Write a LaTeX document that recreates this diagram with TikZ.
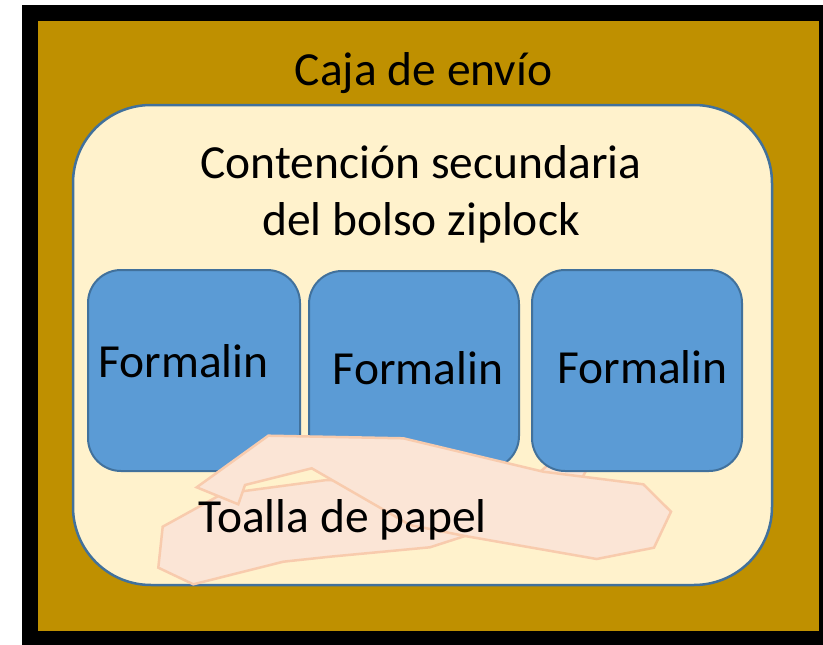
\documentclass[tikz,border=0pt]{standalone}
\usepackage{fontspec}
\setmainfont{Carlito}
\definecolor{gold}{HTML}{BF9000}
\definecolor{cream}{HTML}{FFF2CC}
\definecolor{edgeblue}{HTML}{41719C}
\definecolor{boxblue}{HTML}{5B9BD5}
\definecolor{towelfill}{HTML}{FBE5D6}
\definecolor{toweledge}{HTML}{F8CBAD}
\begin{document}
\begin{tikzpicture}[x=1pt,y=-1pt,
  bigtext/.style={font=\fontsize{47.5}{57}\selectfont, text=black, inner sep=0pt, anchor=base},
  vial/.style={draw=edgeblue, fill=boxblue, line width=2pt, rounded corners=33pt},
  towel/.style={draw=toweledge, fill=towelfill, line width=2.5pt, line join=miter}]
\useasboundingbox (0,0) rectangle (823,645);
\fill[white] (0,0) rectangle (823,645);
% shipping box
\fill[black] (22,5) rectangle (823,645);
\fill[gold] (38,21) rectangle (819,631);
\node[bigtext] (caja) at (423.5,85) {Caja de envío};
% ziplock bag
\draw[edgeblue, fill=cream, line width=2.5pt, rounded corners=78pt] (73,105) rectangle (772,585);
\node[bigtext] (cont1) at (421,178) {Contención secundaria};
\node[bigtext] (cont2) at (421,235) {del bolso ziplock};
% hidden towel tip peeking between boxes
\draw[towel] (533,478) -- (548,465) -- (588,467) -- (580,482) -- cycle;
% formalin containers
\draw[vial] (88,270) rectangle (300,471);
\draw[vial] (309,271) rectangle (519,469);
\draw[vial] (532,270) rectangle (742,471);
\node[bigtext] (f1) at (183.5,377) {Formalin};
\node[bigtext] (f2) at (418,384) {Formalin};
\node[bigtext] (f3) at (642.5,383) {Formalin};
% paper towel: lower band
\draw[towel] (162.7,526.7) -- (222,494) -- (326.7,480) -- (400,480) -- (460,520) -- (465,536)
  -- (430,547.3) -- (330,556.7) -- (283.3,561.7) -- (193.3,584.3) -- (158.3,567.7) -- cycle;
% paper towel: upper band
\draw[towel] (196.7,487.3) -- (268.3,435.7) -- (403.3,438.3) -- (543.3,471.7) -- (643.3,484.3)
  -- (671,511.7) -- (654,547.7) -- (596.7,559) -- (465,536) -- (410,525) -- (311.7,468.3)
  -- (245,485) -- (238.3,504.3) -- cycle;
\node[bigtext] (toalla) at (342.5,532) {Toalla de papel};
\end{tikzpicture}
\end{document}
